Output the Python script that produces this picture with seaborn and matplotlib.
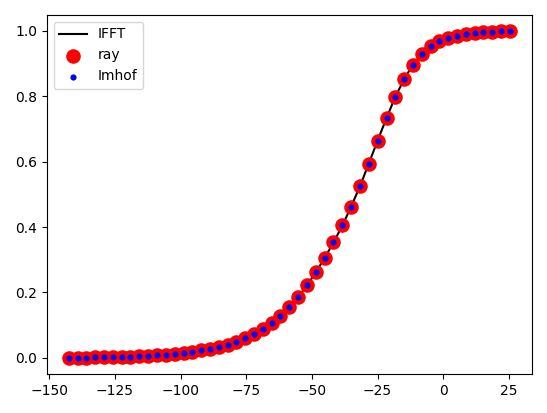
import matplotlib
matplotlib.use("Agg")
import matplotlib.pyplot as plt
import seaborn as sns

x_vals = [-142.6, -139.2, -135.9, -132.5, -129.2, -125.8, -122.4, -119.1, -115.7, -112.4,
          -109.0, -105.6, -102.3, -98.9, -95.6, -92.2, -88.8, -85.5, -82.1, -78.8,
          -75.4, -72.0, -68.7, -65.3, -62.0, -58.6, -55.2, -51.9, -48.5, -45.2,
          -41.8, -38.4, -35.1, -31.7, -28.4, -25.0, -21.6, -18.3, -14.9, -11.6,
          -8.2, -4.8, -1.5, 1.9, 5.2, 8.6, 12.0, 15.3, 18.7, 22.0, 25.4]
cdf_vals = [0.000, 0.000, 0.001, 0.002, 0.002, 0.003, 0.003, 0.004, 0.005, 0.007,
            0.008, 0.010, 0.013, 0.016, 0.019, 0.023, 0.028, 0.034, 0.041, 0.050,
            0.060, 0.073, 0.088, 0.106, 0.128, 0.155, 0.186, 0.222, 0.262, 0.305,
            0.353, 0.405, 0.462, 0.525, 0.593, 0.664, 0.733, 0.797, 0.852, 0.895,
            0.928, 0.952, 0.967, 0.978, 0.985, 0.990, 0.993, 0.995, 0.997, 0.998, 0.998]

fig, ax = plt.subplots(figsize=(5.47, 4.13), dpi=100)
sns.lineplot(x=x_vals, y=cdf_vals, color="black", label="IFFT", ax=ax, zorder=1)
sns.scatterplot(x=x_vals, y=cdf_vals, color="red", s=110, linewidth=0, label="ray", ax=ax, zorder=2)
sns.scatterplot(x=x_vals, y=cdf_vals, color="blue", s=20, linewidth=0, label="Imhof", ax=ax, zorder=3)
ax.legend(loc="upper left")
fig.tight_layout()
fig.savefig("out.png")
